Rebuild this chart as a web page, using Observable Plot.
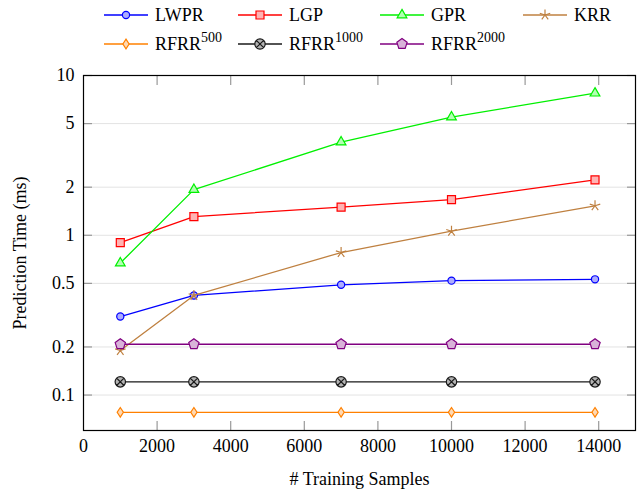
<!DOCTYPE html>
<html><head><meta charset="utf-8">
<script src="https://cdn.jsdelivr.net/npm/d3@7"></script>
<script src="https://cdn.jsdelivr.net/npm/@observablehq/plot@0.6"></script>
<style>
html,body{margin:0;padding:0;background:#fff;}
#wrap{width:640px;height:489px;position:relative;overflow:hidden;font-family:"Liberation Serif",serif;}
#legend{position:relative;width:640px;height:60px;}
.item{position:absolute;height:30px;display:flex;align-items:center;font-size:18px;color:#000;white-space:nowrap;}
.item svg{margin-right:7px;overflow:visible;}
sup{font-size:14px;vertical-align:8px;line-height:0;}
</style></head><body>
<div id="wrap"><div id="legend"></div><div id="chart"></div></div>
<script>
// ---- data ----
const samples = [1000, 3000, 7000, 10000, 13900];
const lwpr = [0.31, 0.42, 0.49, 0.52, 0.53];
const lgp = [0.90, 1.31, 1.50, 1.67, 2.22];
const gpr = [0.67, 1.93, 3.83, 5.49, 7.75];
const krr = [0.19, 0.42, 0.78, 1.06, 1.53];
const rfrr500 = [0.078, 0.078, 0.078, 0.078, 0.078];
const rfrr1000 = [0.121, 0.121, 0.121, 0.121, 0.121];
const rfrr2000 = [0.208, 0.208, 0.208, 0.208, 0.208];
const seriesNames = ["LWPR", "LGP", "GPR", "KRR", "RFRR500", "RFRR1000", "RFRR2000"];
const seriesValues = [lwpr, lgp, gpr, krr, rfrr500, rfrr1000, rfrr2000];
const xTicks = [0, 2000, 4000, 6000, 8000, 10000, 12000, 14000];
const yTicks = [0.1, 0.2, 0.5, 1, 2, 5, 10];

// ---- symbols ----
const rad = s => Math.sqrt(s / Math.PI);
const sym = {
  circle: {draw(c, s) {const r = rad(s); c.moveTo(r, 0); c.arc(0, 0, r, 0, 2 * Math.PI); c.closePath();}},
  square: {draw(c, s) {const r = rad(s); c.rect(-r, -r, 2 * r, 2 * r);}},
  triangle: {draw(c, s) {const r = rad(s); c.moveTo(0, -r); c.lineTo(r * 0.866, r * 0.5); c.lineTo(-r * 0.866, r * 0.5); c.closePath();}},
  star: {draw(c, s) {const r = rad(s); for (let k = 0; k < 5; k++) {const a = -Math.PI / 2 + k * 2 * Math.PI / 5; c.moveTo(0, 0); c.lineTo(r * Math.cos(a), r * Math.sin(a));}}},
  diamond: {draw(c, s) {const r = rad(s); c.moveTo(0, -r); c.lineTo(0.65 * r, 0); c.lineTo(0, r); c.lineTo(-0.65 * r, 0); c.closePath();}},
  otimes: {draw(c, s) {const r = rad(s); c.moveTo(r, 0); c.arc(0, 0, r, 0, 2 * Math.PI); c.closePath(); const d = r * 0.7071; c.moveTo(-d, -d); c.lineTo(d, d); c.moveTo(d, -d); c.lineTo(-d, d);}},
  pentagon: {draw(c, s) {const r = rad(s); for (let k = 0; k < 5; k++) {const a = -Math.PI / 2 + k * 2 * Math.PI / 5; const px = r * Math.cos(a), py = r * Math.sin(a); if (k) c.lineTo(px, py); else c.moveTo(px, py);} c.closePath();}}
};

// ---- styles ----
const styles = {
  LWPR: {stroke: "#0000ff", fill: "#adadff", symbol: sym.circle, r: 3.6, label: "LWPR"},
  LGP: {stroke: "#ff0000", fill: "#ffb3b3", symbol: sym.square, r: 4, label: "LGP"},
  GPR: {stroke: "#00f000", fill: "#b3ffb3", symbol: sym.triangle, r: 5.6, label: "GPR"},
  KRR: {stroke: "#bf8040", fill: "none", symbol: sym.star, r: 5.5, label: "KRR"},
  RFRR500: {stroke: "#ff8000", fill: "#ffd9b3", symbol: sym.diamond, r: 4.8, label: "RFRR<sup>500</sup>"},
  RFRR1000: {stroke: "#1a1a1a", fill: "#b3b3b3", symbol: sym.otimes, r: 5.2, label: "RFRR<sup>1000</sup>"},
  RFRR2000: {stroke: "#800080", fill: "#d9b3d9", symbol: sym.pentagon, r: 5.4, label: "RFRR<sup>2000</sup>"}
};
const legendPos = {
  LWPR: [104, 0], LGP: [238, 0], GPR: [380, 0], KRR: [523, 0],
  RFRR500: [104, 29], RFRR1000: [238, 29], RFRR2000: [380, 29]
};

const rows = seriesNames.flatMap((name, i) => samples.map((x, j) => ({series: name, x, y: seriesValues[i][j]})));

// ---- legend ----
const legend = d3.select("#legend");
seriesNames.forEach(name => {
  const st = styles[name];
  const [lx, ly] = legendPos[name];
  const item = legend.append("div").attr("class", "item").style("left", lx + "px").style("top", ly + "px");
  const svg = item.append("svg").attr("width", 44).attr("height", 20);
  svg.append("line").attr("x1", 0).attr("x2", 44).attr("y1", 10).attr("y2", 10).attr("stroke", st.stroke).attr("stroke-width", 1.3);
  const p = d3.path();
  st.symbol.draw(p, st.r * st.r * Math.PI);
  svg.append("path").attr("d", p.toString()).attr("transform", "translate(22,10)")
    .attr("fill", st.fill).attr("stroke", st.stroke).attr("stroke-width", 1.2);
  item.append("span").html(st.label);
});

// ---- chart ----
const seriesMarks = seriesNames.flatMap(name => {
  const st = styles[name];
  const data = rows.filter(d => d.series === name);
  return [
    Plot.line(data, {x: "x", y: "y", stroke: st.stroke, strokeWidth: 1.3}),
    Plot.dot(data, {x: "x", y: "y", symbol: st.symbol, r: st.r, fill: st.fill, stroke: st.stroke, strokeWidth: 1.2})
  ];
});

const chart = Plot.plot({
  width: 640, height: 429,
  marginTop: 15, marginBottom: 59, marginLeft: 83, marginRight: 5,
  style: {fontFamily: '"Liberation Serif", serif', fontSize: "18px", background: "white", color: "black"},
  x: {domain: [0, 15000]},
  y: {type: "log", domain: [0.06, 10]},
  marks: [
    Plot.gridY(yTicks, {stroke: "#e3e3e3", strokeOpacity: 1, strokeWidth: 1}),
    Plot.axisX(xTicks.slice(1), {anchor: "bottom", tickSize: -9, text: null, label: null, stroke: "#999", strokeWidth: 1.2}),
    Plot.axisX(xTicks.slice(1), {anchor: "top", tickSize: -9, text: null, label: null, stroke: "#999", strokeWidth: 1.2}),
    Plot.axisY(yTicks, {anchor: "left", tickSize: -9, text: null, label: null, stroke: "#999", strokeWidth: 1.2}),
    Plot.axisY(yTicks, {anchor: "right", tickSize: -9, text: null, label: null, stroke: "#999", strokeWidth: 1.2}),
    Plot.axisX(xTicks, {anchor: "bottom", tickSize: 0, tickPadding: 9, tickFormat: d => String(d),
      label: "# Training Samples", labelAnchor: "center", labelOffset: 54, labelArrow: "none"}),
    Plot.axisY(yTicks, {anchor: "left", tickSize: 0, text: null, label: "Prediction Time (ms)",
      labelAnchor: "center", labelOffset: 70, labelArrow: "none"}),
    Plot.text(yTicks, {y: d => d, text: d => String(d), frameAnchor: "left", textAnchor: "end", dx: -9, fill: "black"}),
    ...seriesMarks,
    Plot.frame({stroke: "black", strokeWidth: 1.2})
  ]
});
document.getElementById("chart").appendChild(chart);
</script>
</body></html>
